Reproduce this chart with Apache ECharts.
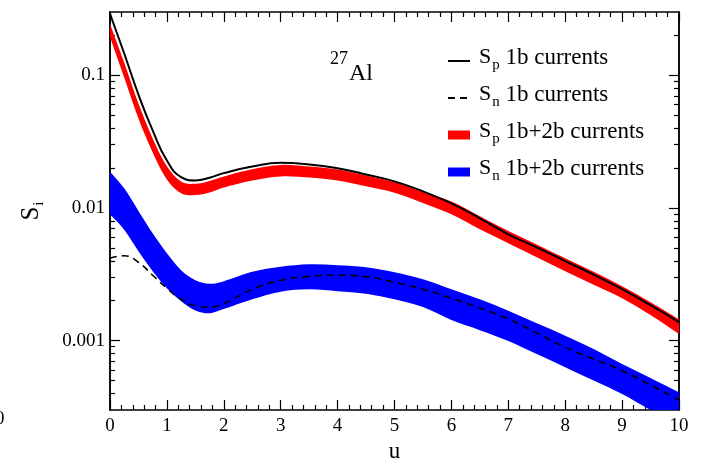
<!DOCTYPE html>
<html><head><meta charset="utf-8">
<script src="https://cdn.jsdelivr.net/npm/echarts@6/dist/echarts.min.js"></script>
<style>html,body{margin:0;padding:0;background:#fff}#c{width:706px;height:458px}</style>
</head><body><div id="c"></div>
<script>
// ---- data ----
const u = [0,0.25,0.5,0.75,1,1.25,1.5,1.75,2,2.5,3,3.5,4,4.5,5,5.5,6,6.5,7,7.5,8,8.5,9,9.5,10];
const sp1b = [0.291,0.146,0.0716,0.0384,0.0228,0.0171,0.01614,0.0169,0.0183,0.0205,0.0219,0.0213,0.0199,0.0179,0.01586,0.01333,0.01083,0.00836,0.00633,0.00505,0.00398,0.00314,0.00244,0.00185,0.00138];
const sn1b = [0.00418,0.00436,0.0039,0.00311,0.00248,0.00205,0.00183,0.00179,0.00191,0.00244,0.00285,0.00305,0.00311,0.00303,0.00275,0.00244,0.00209,0.00176,0.00145,0.00114,0.00089,0.000726,0.000593,0.000463,0.000356];
const sp2bHigh = [0.245,0.1248,0.0612,0.0334,0.0206,0.0158,0.0152,0.0160,0.0173,0.0196,0.0211,0.0205,0.0195,0.0176,0.0157,0.0132,0.0112,0.00865,0.0067,0.00531,0.00418,0.0033,0.00257,0.00195,0.00145];
const sp2bLow = [0.194,0.0962,0.0472,0.0262,0.0164,0.0129,0.01255,0.0131,0.01428,0.01614,0.0173,0.0170,0.01614,0.01455,0.0130,0.0109,0.00895,0.0069,0.00542,0.00425,0.00334,0.00264,0.00209,0.00156,0.00112];
const sn2bHigh = [0.01875,0.01405,0.0095,0.00644,0.00455,0.00339,0.00285,0.00268,0.0028,0.0033,0.0036,0.00376,0.0037,0.00357,0.00327,0.0029,0.00244,0.00205,0.00168,0.00135,0.00109,0.000863,0.000666,0.000522,0.000407];
const sn2bLow = [0.00895,0.00684,0.00471,0.00334,0.00248,0.00198,0.00169,0.00161,0.00173,0.00205,0.00234,0.00244,0.00236,0.00226,0.00205,0.00179,0.00143,0.0012,0.000995,0.000792,0.00063,0.0005,0.000396,0.0003,0.00023];
const yMajorTicks = [0.001,0.01,0.1];
const yMinorTicks = [0.0004,0.0005,0.0006,0.0007,0.0008,0.0009,0.002,0.003,0.004,0.005,0.006,0.007,0.008,0.009,0.02,0.03,0.04,0.05,0.06,0.07,0.08,0.09,0.2];
const seriesNames = ['Sp 1b currents','Sn 1b currents','Sp 1b+2b currents','Sn 1b+2b currents'];
const legendLabels = {
  'Sp 1b currents': ['p',' 1b currents'],
  'Sn 1b currents': ['n',' 1b currents'],
  'Sp 1b+2b currents': ['p',' 1b+2b currents'],
  'Sn 1b+2b currents': ['n',' 1b+2b currents']
};

const FONT = "'Liberation Serif','Times New Roman',serif";
const pairs = (ys) => u.map((x,i) => [x, ys[i]]);
const bandData = (lo, hi) => u.map((x,i) => [x, lo[i], hi[i]]);

// smooth path (Catmull-Rom -> cubic Bezier) through pixel points
function curveSegs(pts, first) {
  let d = first ? 'M' + pts[0][0] + ' ' + pts[0][1] : 'L' + pts[0][0] + ' ' + pts[0][1];
  for (let i = 0; i < pts.length - 1; i++) {
    const p0 = pts[Math.max(i - 1, 0)], p1 = pts[i], p2 = pts[i + 1], p3 = pts[Math.min(i + 2, pts.length - 1)];
    const c1 = [p1[0] + (p2[0] - p0[0]) / 6, p1[1] + (p2[1] - p0[1]) / 6];
    const c2 = [p2[0] - (p3[0] - p1[0]) / 6, p2[1] - (p3[1] - p1[1]) / 6];
    d += 'C' + c1[0] + ' ' + c1[1] + ' ' + c2[0] + ' ' + c2[1] + ' ' + p2[0] + ' ' + p2[1];
  }
  return d;
}
function bandRenderer(lo, hi, color) {
  return function (params, api) {
    if (params.dataIndex !== 0) return null;
    const top = u.map((x, i) => api.coord([x, hi[i]]));
    const bot = u.map((x, i) => api.coord([x, lo[i]])).reverse();
    const d = curveSegs(top, true) + curveSegs(bot, false) + 'Z';
    return {
      type: 'path',
      shape: { pathData: d },
      style: { fill: color, stroke: null }
    };
  };
}

const xBase = {
  type:'value', min:0, max:10, interval:1, gridIndex:0,
  axisLine:{show:true, lineStyle:{color:'#000', width:1.5}},
  axisTick:{show:true, inside:true, length:10, lineStyle:{color:'#000', width:1.2}},
  minorTick:{show:true, splitNumber:5, length:5, lineStyle:{color:'#000', width:1.2}},
  splitLine:{show:false}, minorSplitLine:{show:false}
};
const yBase = {
  type:'log', logBase:10, min:0.0003, max:0.3, gridIndex:0,
  axisLine:{show:true, lineStyle:{color:'#000', width:1.5}},
  splitLine:{show:false}
};
// rich styles: main text at top of a 29px box, subscript at its bottom
const richMain = (fs) => ({fontSize:fs, fontFamily:FONT, color:'#000', lineHeight:22, padding:[0,0,7,0]});
const richSub = (fs) => ({fontSize:fs, fontFamily:FONT, color:'#000', lineHeight:20, padding:[9,0,0,1]});

const option = {
  animation:false,
  backgroundColor:'#fff',
  grid:{left:110, right:27, top:12, bottom:48, containLabel:false, outerBoundsMode:'none'},
  xAxis:[
    Object.assign({}, xBase, {position:'bottom',
      axisLabel:{show:true, fontSize:19, fontFamily:FONT, color:'#000', margin:7},
      name:'u', nameLocation:'middle', nameGap:25,
      nameTextStyle:{fontSize:23, fontFamily:FONT, color:'#000'}}),
    Object.assign({}, xBase, {position:'top', axisLabel:{show:false}})
  ],
  yAxis:[
    Object.assign({}, yBase, {position:'left',
      axisTick:{show:true, inside:true, length:10, customValues:yMajorTicks, lineStyle:{color:'#000', width:1.2}},
      axisLabel:{show:true, customValues:yMajorTicks, fontSize:19, fontFamily:FONT, color:'#000', margin:5,
        formatter:(v)=>String(parseFloat(Number(v).toPrecision(3)))},
      name:'{s|S}{sub|i}', nameLocation:'middle', nameGap:64, nameRotate:90,
      nameTextStyle:{rich:{ s:richMain(25), sub:richSub(15) }}}),
    Object.assign({}, yBase, {position:'left',
      axisTick:{show:true, inside:true, length:5, customValues:yMinorTicks, lineStyle:{color:'#000', width:1.2}},
      axisLabel:{show:false}}),
    Object.assign({}, yBase, {position:'right',
      axisTick:{show:true, inside:true, length:10, customValues:yMajorTicks, lineStyle:{color:'#000', width:1.2}},
      axisLabel:{show:false}}),
    Object.assign({}, yBase, {position:'right',
      axisTick:{show:true, inside:true, length:5, customValues:yMinorTicks, lineStyle:{color:'#000', width:1.2}},
      axisLabel:{show:false}})
  ],
  legend:{
    show:true, orient:'vertical', left:447, top:46, padding:0, itemGap:7,
    itemWidth:22, itemHeight:9,
    data:[
      {name:seriesNames[0], itemStyle:{opacity:0}},
      {name:seriesNames[1], itemStyle:{opacity:0}},
      {name:seriesNames[2], icon:'rect'},
      {name:seriesNames[3], icon:'rect'}
    ],
    formatter:(name)=>{ const l = legendLabels[name]; return '{s|S}{sub|'+l[0]+'}{t|'+l[1]+'}'; },
    textStyle:{color:'#000', fontFamily:FONT, rich:{
      s:Object.assign(richMain(22), {padding:[0,0,7,4]}),
      sub:richSub(15),
      t:richMain(23)
    }}
  },
  series:[
    {name:seriesNames[2], type:'custom', clip:true, data:bandData(sp2bLow, sp2bHigh),
     encode:{x:0, y:[1,2]}, itemStyle:{color:'#ff0000'},
     renderItem:bandRenderer(sp2bLow, sp2bHigh, '#ff0000'), xAxisIndex:0, yAxisIndex:0, z:2},
    {name:seriesNames[3], type:'custom', clip:true, data:bandData(sn2bLow, sn2bHigh),
     encode:{x:0, y:[1,2]}, itemStyle:{color:'#0000ff'},
     renderItem:bandRenderer(sn2bLow, sn2bHigh, '#0000ff'), xAxisIndex:0, yAxisIndex:0, z:2},
    {name:seriesNames[0], type:'line', data:pairs(sp1b), symbol:'none', smooth:0.5,
     lineStyle:{color:'#000', width:2}, itemStyle:{color:'#000'}, xAxisIndex:0, yAxisIndex:0, z:3},
    {name:seriesNames[1], type:'line', data:pairs(sn1b), symbol:'none', smooth:0.5,
     lineStyle:{color:'#000', width:1.6, type:[7,5]}, itemStyle:{color:'#000'}, xAxisIndex:0, yAxisIndex:0, z:3}
  ],
  graphic:[
    {type:'text', z:100, left:330, top:50, style:{text:'27', font:'18px '+FONT, fill:'#000'}},
    {type:'text', z:100, left:349, top:62, style:{text:'Al', font:'24px '+FONT, fill:'#000'}},
    {type:'text', z:100, left:-5, top:410, style:{text:'0', font:'19px '+FONT, fill:'#000'}}
  ]
};
const chart = echarts.init(document.getElementById('c'), null, {renderer:'canvas'});
chart.setOption(option);
</script>
</body></html>
